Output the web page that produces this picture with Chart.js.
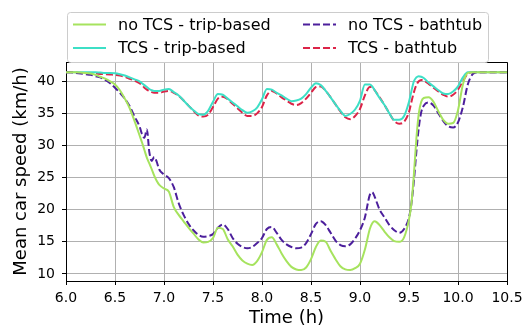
<!DOCTYPE html>
<html>
<head>
<meta charset="utf-8">
<script src="https://cdn.jsdelivr.net/npm/chart.js@4.4.1/dist/chart.umd.min.js"></script>
<style>
  html, body { margin: 0; padding: 0; background: #fff; }
  #wrap { width: 530px; height: 329px; }
</style>
</head>
<body>
<div id="wrap"><canvas id="speedChart" width="530" height="329"></canvas></div>
<script>
const times = [
  6.00, 6.05, 6.10, 6.15, 6.20, 6.25, 6.30, 6.35, 6.40, 6.45, 6.50, 6.55, 6.60, 6.65, 6.70, 6.75,
  6.775, 6.80, 6.825, 6.85, 6.875, 6.90, 6.925, 6.95,
  7.00, 7.05, 7.10, 7.15, 7.20, 7.25, 7.30, 7.35, 7.40, 7.45,
  7.50, 7.55, 7.60, 7.65, 7.70, 7.75, 7.80, 7.85, 7.90, 7.95,
  8.00, 8.05, 8.10, 8.15, 8.20, 8.25, 8.30, 8.35, 8.40, 8.45,
  8.50, 8.55, 8.60, 8.65, 8.70, 8.75, 8.80, 8.85, 8.90, 8.95,
  9.00, 9.05, 9.10,
  9.125,
  9.15, 9.20, 9.25, 9.30, 9.35, 9.40, 9.45, 9.50,
  9.525, 9.55, 9.575, 9.60, 9.625, 9.65,
  9.70, 9.75, 9.80, 9.85, 9.90, 9.95, 10.00, 10.05, 10.10, 10.15, 10.20,
  10.30, 10.40, 10.50
];

const noTcsTrip = [
  41.4, 41.4, 41.4, 41.35, 41.3, 41.2, 41.0, 40.7, 40.4, 40.0, 39.5, 38.6, 37.3, 35.8, 33.8, 31.6,
  30.5, 29.3, 28.1, 27.2, 26.3, 25.3, 24.5, 23.9,
  23.3, 22.8, 20.4, 19.2, 18.2, 17.2, 16.3, 15.4, 14.9, 15.0,
  15.6, 17.2, 17.0, 15.4, 14.3, 13.0, 12.1, 11.6, 11.4, 12.0,
  13.4, 15.3, 15.7, 14.6, 13.2, 12.0, 11.1, 10.7, 10.6, 11.0,
  12.3, 14.2, 15.2, 15.0, 13.6, 12.3, 11.2, 10.7, 10.6, 10.9,
  11.6, 13.8, 17.0,
  17.9,
  18.2, 17.6, 16.6, 15.7, 15.1, 15.0, 15.7, 18.5,
  21.0, 25.5, 31.0, 35.0, 36.8, 37.4,
  37.5, 36.8, 35.3, 34.0, 33.4, 33.5, 35.5, 39.5, 41.3, 41.4, 41.4,
  41.4, 41.4, 41.4
];

const tcsTrip = [
  41.4, 41.4, 41.4, 41.4, 41.4, 41.4, 41.4, 41.35, 41.3, 41.3, 41.25, 41.1, 40.9, 40.6, 40.3, 40.0,
  39.7, 39.4, 39.1, 38.8, 38.6, 38.5, 38.5, 38.5,
  38.7, 38.8, 38.3, 37.8, 37.0, 36.2, 35.5, 34.9, 34.8, 35.4,
  36.8, 38.0, 37.9, 37.3, 36.7, 36.1, 35.5, 35.1, 35.3, 35.9,
  37.2, 38.8, 38.7, 38.2, 37.8, 37.3, 36.9, 37.0, 37.3, 38.0,
  39.0, 39.7, 39.4, 38.5, 37.5, 36.4, 35.4, 34.6, 34.9, 35.6,
  37.0, 39.5, 39.5,
  39.2,
  38.6, 37.4, 36.3, 35.0, 34.0, 34.0, 34.6, 36.8,
  38.5, 40.0, 40.6, 40.8, 40.7, 40.5,
  39.8, 39.2, 38.6, 38.1, 38.0, 38.4, 39.2, 40.6, 41.4, 41.4, 41.4,
  41.4, 41.4, 41.4
];

const noTcsBathtub = [
  41.4, 41.4, 41.3, 41.2, 41.1, 41.0, 40.8, 40.6, 40.2, 39.7, 39.0, 38.2, 37.3, 36.1, 34.5, 33.0,
  31.8, 31.2, 32.5, 29.0, 27.6, 28.2, 27.5, 26.3,
  25.5, 24.9, 23.5, 21.0, 19.2, 17.8, 16.8, 16.1, 15.8, 15.9,
  16.2, 17.2, 17.7, 17.0, 15.6, 14.7, 14.2, 14.0, 14.2, 14.8,
  15.6, 17.0, 17.3, 16.4, 15.3, 14.6, 14.2, 14.0, 14.1, 14.8,
  16.2, 17.8, 18.2, 17.6, 16.4, 15.2, 14.5, 14.3, 14.6, 15.5,
  16.8, 18.8, 22.3,
  22.7,
  22.0, 20.0, 18.8, 17.6, 16.8, 16.4, 17.0, 18.8,
  21.0, 24.5, 29.0, 32.8, 35.2, 36.2,
  36.7, 36.2, 35.0, 33.8, 33.0, 32.8, 33.6, 36.0, 39.5, 41.1, 41.4,
  41.4, 41.4, 41.4
];

const tcsBathtub = [
  41.4, 41.4, 41.35, 41.3, 41.3, 41.25, 41.2, 41.15, 41.1, 41.05, 41.0, 40.9, 40.7, 40.4, 40.1, 39.7,
  39.4, 39.0, 38.7, 38.5, 38.3, 38.2, 38.2, 38.2,
  38.4, 38.5, 38.2, 37.7, 37.0, 36.2, 35.4, 34.7, 34.5, 34.8,
  36.0, 37.3, 37.6, 37.2, 36.5, 35.8, 35.1, 34.6, 34.6, 35.0,
  36.0, 37.8, 38.5, 38.1, 37.5, 37.0, 36.5, 36.3, 36.6, 37.3,
  38.2, 39.1, 39.2, 38.5, 37.5, 36.4, 35.3, 34.4, 34.1, 34.6,
  35.7, 37.8, 39.1,
  39.1,
  38.6, 37.5, 36.3, 35.0, 33.8, 33.4, 33.7, 35.2,
  36.8, 38.3, 39.4, 40.0, 40.2, 40.1,
  39.6, 39.0, 38.4, 37.9, 37.6, 37.9, 38.7, 40.0, 41.2, 41.4, 41.4,
  41.4, 41.4, 41.4
];

const xTicks = [6.0, 6.5, 7.0, 7.5, 8.0, 8.5, 9.0, 9.5, 10.0, 10.5];
const yTicks = [10, 15, 20, 25, 30, 35, 40];

const FONT = '"DejaVu Sans", "Liberation Sans", sans-serif';

function series(values) {
  return values.map((v, i) => ({ x: times[i], y: v }));
}

// matplotlib-like frame: top and right spines
const framePlugin = {
  id: "frame",
  afterDraw(chart) {
    const { ctx, chartArea: a } = chart;
    ctx.save();
    ctx.strokeStyle = "#000";
    ctx.lineWidth = 1;
    ctx.beginPath();
    ctx.moveTo(a.left, a.top + 0.5);
    ctx.lineTo(a.right + 0.5, a.top + 0.5);
    ctx.lineTo(a.right + 0.5, a.bottom);
    ctx.stroke();
    ctx.restore();
  }
};

// two-column legend box above the plot
const legendPlugin = {
  id: "twoColLegend",
  afterDraw(chart) {
    const ctx = chart.ctx;
    const box = { x: 67.5, y: 12.5, w: 421, h: 50, r: 3 };
    ctx.save();
    ctx.beginPath();
    ctx.roundRect(box.x, box.y, box.w, box.h, box.r);
    ctx.fillStyle = "rgba(255,255,255,0.8)";
    ctx.fill();
    ctx.strokeStyle = "#cccccc";
    ctx.lineWidth = 1;
    ctx.stroke();

    const slots = [
      { x: 73, tx: 118, y: 24.5 },
      { x: 73, tx: 118, y: 48 },
      { x: 303, tx: 348, y: 24.5 },
      { x: 303, tx: 348, y: 48 }
    ];
    const order = [0, 2, 1, 3];
    slots.forEach((s, k) => {
      const ds = chart.data.datasets[order[k]];
      ctx.beginPath();
      ctx.setLineDash(ds.borderDash || []);
      ctx.strokeStyle = ds.borderColor;
      ctx.lineWidth = ds.borderWidth;
      ctx.moveTo(s.x, s.y);
      ctx.lineTo(s.x + 33, s.y);
      ctx.stroke();
      ctx.setLineDash([]);
      ctx.fillStyle = "#000";
      ctx.font = `16px ${FONT}`;
      ctx.textBaseline = "middle";
      ctx.textAlign = "left";
      ctx.fillText(ds.label, s.tx, s.y + 1);
    });
    ctx.restore();
  }
};

const lineBase = {
  borderWidth: 2,
  pointRadius: 0,
  fill: false,
  cubicInterpolationMode: "monotone"
};

new Chart(document.getElementById("speedChart"), {
  type: "line",
  data: {
    datasets: [
      { ...lineBase, label: "no TCS - trip-based", data: series(noTcsTrip), borderColor: "#a6e35e" },
      { ...lineBase, label: "no TCS - bathtub", data: series(noTcsBathtub), borderColor: "#4c1f9c", borderDash: [7, 3] },
      { ...lineBase, label: "TCS - trip-based", data: series(tcsTrip), borderColor: "#3ddfc6" },
      { ...lineBase, label: "TCS - bathtub", data: series(tcsBathtub), borderColor: "#dc2448", borderDash: [7, 3] }
    ]
  },
  options: {
    responsive: false,
    animation: false,
    layout: { padding: { top: 62, right: 23, left: 0, bottom: 0 } },
    plugins: { legend: { display: false }, tooltip: { enabled: false } },
    scales: {
      x: {
        type: "linear",
        min: 6,
        max: 10.5,
        afterFit: s => { s.height = 48; },
        afterBuildTicks: s => { s.ticks = xTicks.map(v => ({ value: v })); },
        grid: { color: "#b0b0b0", lineWidth: 1, tickColor: "#000", tickLength: 4 },
        border: { color: "#000", width: 1 },
        ticks: {
          color: "#000",
          padding: 5,
          maxRotation: 0,
          font: { family: FONT, size: 14 },
          callback: v => Number(v).toFixed(1)
        },
        title: {
          display: true,
          text: "Time (h)",
          color: "#000",
          font: { family: FONT, size: 18 },
          padding: { top: -2, bottom: 0 }
        }
      },
      y: {
        min: 8.9,
        max: 43.0,
        afterFit: s => { s.width = 66; },
        afterBuildTicks: s => { s.ticks = yTicks.map(v => ({ value: v })); },
        grid: { color: "#b0b0b0", lineWidth: 1, tickColor: "#000", tickLength: 4 },
        border: { color: "#000", width: 1 },
        ticks: {
          color: "#000",
          padding: 7,
          font: { family: FONT, size: 14 }
        },
        title: {
          display: true,
          text: "Mean car speed (km/h)",
          color: "#000",
          font: { family: FONT, size: 18 },
          padding: { top: 11, bottom: 0 }
        }
      }
    }
  },
  plugins: [framePlugin, legendPlugin]
});
</script>
</body>
</html>
